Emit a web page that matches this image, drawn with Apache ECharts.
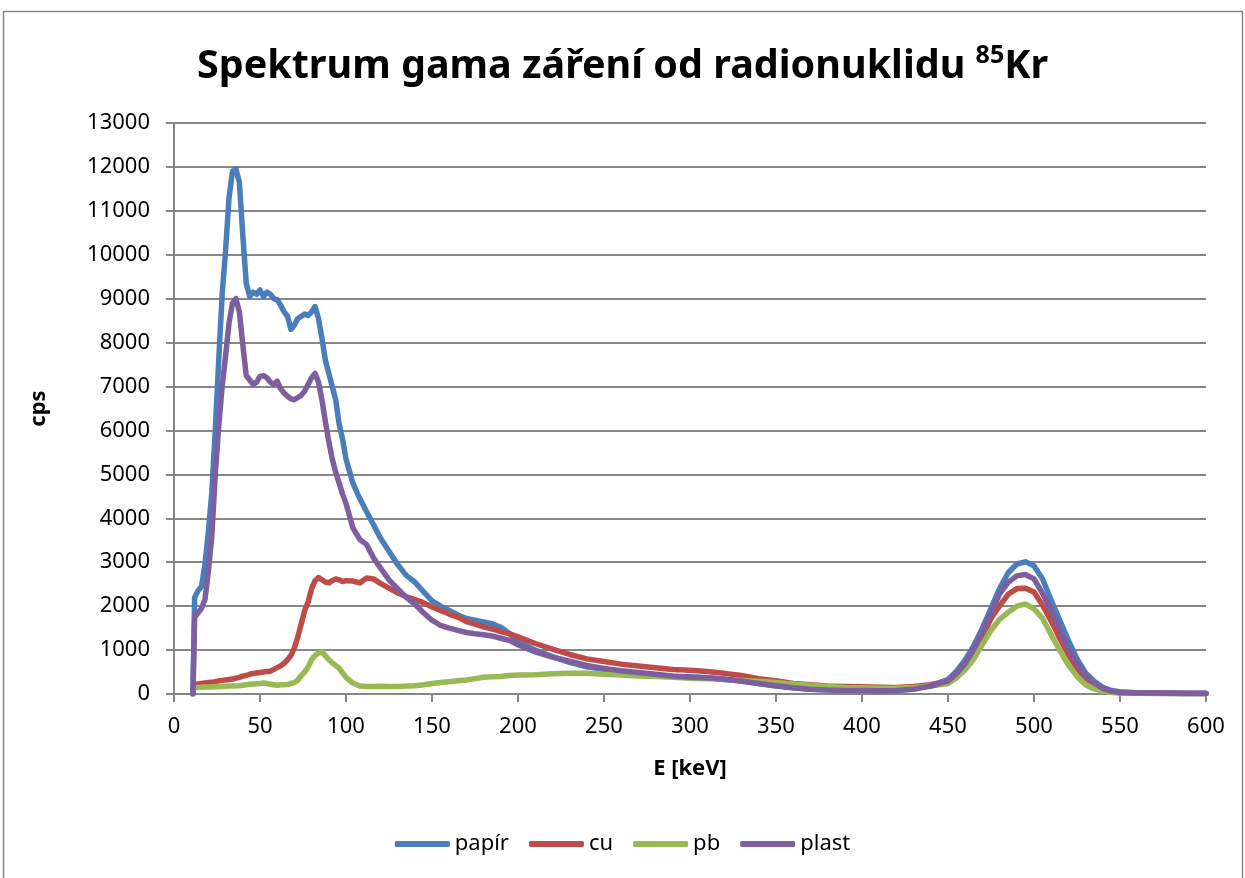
<!DOCTYPE html>
<html>
<head>
<meta charset="utf-8">
<title>Spektrum gama záření od radionuklidu 85Kr</title>
<script src="https://cdn.jsdelivr.net/npm/echarts@6.0.0/dist/echarts.min.js"></script>
<style>
  html, body { margin: 0; padding: 0; background: #fff; }
  #chart { width: 1245px; height: 878px; }
</style>
</head>
<body>
<div id="chart"></div>
<script>
// energy channels [keV]
const energy = [11, 12, 14, 16, 18, 20, 22, 24, 26, 28,
  30, 32, 34, 36, 38, 40, 42, 44, 46, 48,
  50, 52, 54, 56, 58, 60, 62, 64, 66, 68,
  70, 72, 74, 76, 78, 80, 82, 84, 86, 88,
  90, 92, 94, 96, 98, 100, 104, 108, 112, 116,
  120, 125, 130, 135, 140, 145, 150, 155, 160, 165,
  170, 175, 180, 185, 190, 195, 200, 210, 220, 230,
  240, 250, 260, 270, 280, 290, 300, 310, 320, 330,
  340, 350, 360, 370, 380, 390, 400, 410, 420, 430,
  440, 445, 450, 455, 460, 465, 470, 475, 480, 485,
  490, 495, 500, 505, 510, 515, 520, 525, 530, 535,
  540, 545, 550, 560, 570, 580, 590, 600];

const papir = [0, 2200, 2350, 2450, 2950, 3700, 4600, 6000, 7600, 9100,
  10100, 11300, 11900, 11950, 11650, 10450, 9350, 9050, 9150, 9100,
  9200, 9050, 9150, 9100, 9000, 8980, 8850, 8700, 8600, 8300,
  8400, 8550, 8600, 8650, 8620, 8700, 8820, 8550, 8100, 7600,
  7300, 7000, 6700, 6150, 5800, 5350, 4800, 4450, 4150, 3850,
  3550, 3250, 2950, 2700, 2550, 2330, 2120, 2000, 1900, 1800,
  1720, 1680, 1640, 1600, 1520, 1380, 1200, 1000, 850, 720,
  620, 560, 500, 450, 420, 400, 390, 370, 330, 300,
  240, 180, 140, 110, 95, 90, 85, 80, 85, 120,
  200, 260, 330, 520, 775, 1100, 1500, 1950, 2400, 2760,
  2960, 3010, 2920, 2620, 2130, 1670, 1220, 800, 480, 290,
  150, 80, 50, 30, 25, 20, 15, 15];

const cu = [null, 220, 230, 240, 250, 260, 270, 280, 300, 310,
  320, 330, 340, 360, 380, 410, 420, 450, 470, 480,
  490, 500, 510, 520, 560, 600, 640, 700, 780, 880,
  1050, 1300, 1600, 1900, 2100, 2400, 2580, 2650, 2600, 2550,
  2530, 2580, 2620, 2600, 2560, 2580, 2570, 2530, 2640, 2620,
  2520, 2410, 2300, 2220, 2150, 2080, 1980, 1900, 1820, 1750,
  1650, 1590, 1530, 1480, 1420, 1370, 1300, 1150, 1020, 900,
  800, 740, 680, 640, 600, 560, 540, 510, 470, 420,
  350, 300, 240, 210, 180, 170, 165, 155, 150, 170,
  210, 250, 300, 450, 660, 950, 1320, 1720, 2010, 2270,
  2400, 2410, 2320, 2020, 1660, 1260, 900, 590, 340, 210,
  110, 55, 30, 20, 15, 12, 10, 10];

const pb = [null, 150, 150, 155, 160, 160, 165, 165, 170, 170,
  175, 180, 180, 185, 190, 200, 210, 220, 230, 235,
  240, 250, 240, 220, 210, 200, 210, 210, 215, 240,
  260, 320, 420, 500, 620, 780, 880, 930, 960, 870,
  780, 710, 650, 590, 480, 380, 250, 180, 170, 170,
  175, 170, 170, 180, 190, 210, 240, 260, 280, 300,
  320, 350, 380, 390, 400, 420, 430, 440, 460, 470,
  470, 450, 430, 410, 400, 380, 360, 350, 330, 310,
  290, 260, 230, 200, 170, 150, 140, 130, 130, 150,
  180, 210, 240, 370, 550, 800, 1130, 1450, 1700, 1860,
  2000, 2050, 1940, 1720, 1350, 990, 660, 400, 210, 115,
  65, 35, 20, 15, 12, 10, 8, 8];

const plast = [0, 1750, 1850, 1950, 2150, 2800, 3600, 5000, 6100, 7000,
  7700, 8450, 8900, 9000, 8700, 7950, 7250, 7150, 7050, 7100,
  7230, 7250, 7200, 7100, 7050, 7120, 6950, 6850, 6780, 6720,
  6700, 6750, 6800, 6900, 7050, 7200, 7300, 7100, 6700, 6200,
  5750, 5350, 5050, 4800, 4550, 4340, 3780, 3520, 3400, 3100,
  2870, 2600, 2400, 2200, 2050, 1850, 1680, 1560, 1500, 1450,
  1400, 1370, 1350, 1320, 1270, 1220, 1120, 960, 840, 750,
  650, 580, 530, 490, 450, 410, 380, 370, 340, 290,
  240, 190, 140, 110, 90, 80, 78, 76, 80, 110,
  180, 240, 300, 470, 700, 1020, 1420, 1860, 2280, 2540,
  2690, 2720, 2620, 2290, 1900, 1470, 1030, 700, 420, 250,
  130, 65, 35, 25, 20, 15, 12, 12];

const seriesNames = ["papír", "cu", "pb", "plast"];
const seriesColors = ["#4a7ebb", "#be4b48", "#98b954", "#7d5fa0"];
const seriesValues = [papir, cu, pb, plast];

const font = "'Noto Sans', 'DejaVu Sans', sans-serif";
const axisGray = "#868686";

const chart = echarts.init(document.getElementById("chart"));

const series = seriesNames.map((name, i) => ({
  name: name,
  type: "line",
  data: energy.map((e, j) => [e, seriesValues[i][j]]),
  showSymbol: false,
  connectNulls: false,
  lineStyle: { width: 5.5, color: seriesColors[i], join: "round", cap: "round" },
  itemStyle: { color: seriesColors[i] },
  z: 2 + i,
}));

const option = {
  animation: false,
  backgroundColor: "#fff",
  textStyle: { fontFamily: font, color: "#000" },
  title: {
    left: "center",
    top: 38,
    text: "{a|Spektrum gama záření od radionuklidu }{sup|85}{a|Kr}",
    textStyle: {
      rich: {
        a: { fontFamily: font, fontSize: 39.5, fontWeight: "bold", color: "#000", lineHeight: 48 },
        sup: { fontFamily: font, fontSize: 25, fontWeight: "bold", color: "#000", verticalAlign: "top", lineHeight: 34 },
      },
    },
  },
  graphic: [
    {
      type: "rect",
      shape: { x: 3.5, y: 11.5, width: 1239, height: 880 },
      style: { fill: "none", stroke: axisGray, lineWidth: 1.5 },
      silent: true,
    },
  ],
  legend: {
    top: 828,
    left: "center",
    icon: "roundRect",
    itemWidth: 55,
    itemHeight: 6,
    itemGap: 20,
    textStyle: { fontFamily: font, fontSize: 22, color: "#000" },
    data: seriesNames,
  },
  grid: { left: 174, right: 39, top: 123, bottom: 184 },
  xAxis: {
    type: "value",
    min: 0,
    max: 600,
    interval: 50,
    name: "E [keV]",
    nameLocation: "middle",
    nameGap: 64,
    nameTextStyle: { fontFamily: font, fontSize: 22, fontWeight: "bold", color: "#000" },
    axisLine: { show: true, onZero: false, lineStyle: { color: axisGray, width: 2 } },
    axisTick: { show: true, length: 8, lineStyle: { color: axisGray, width: 2 } },
    axisLabel: { fontFamily: font, fontSize: 22, color: "#000", margin: 22 },
    splitLine: { show: false },
  },
  yAxis: {
    type: "value",
    min: 0,
    max: 13000,
    interval: 1000,
    name: "cps",
    nameLocation: "middle",
    nameRotate: 90,
    nameGap: 124,
    nameTextStyle: { fontFamily: font, fontSize: 22, fontWeight: "bold", color: "#000" },
    axisLine: { show: true, lineStyle: { color: axisGray, width: 2 } },
    axisTick: { show: true, length: 8, lineStyle: { color: axisGray, width: 2 } },
    axisLabel: {
      fontFamily: font,
      fontSize: 22,
      color: "#000",
      margin: 24,
      formatter: (v) => String(v),
    },
    splitLine: { show: true, lineStyle: { color: axisGray, width: 2 } },
  },
  series: series,
};

chart.setOption(option);
</script>
</body>
</html>
